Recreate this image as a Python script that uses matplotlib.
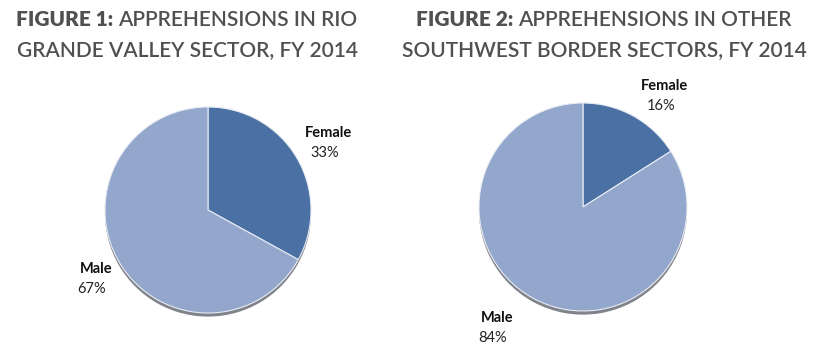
import matplotlib
matplotlib.use("Agg")
import matplotlib.pyplot as plt

categories = ["Female", "Male"]
rgv_values = [33, 67]
other_values = [16, 84]
titles_bold = ["FIGURE 1:", "FIGURE 2:"]
titles_rest = [["APPREHENSIONS IN RIO", "GRANDE VALLEY SECTOR, FY 2014"],
               ["APPREHENSIONS IN OTHER", "SOUTHWEST BORDER SECTORS, FY 2014"]]

W, H = 816, 348
fig = plt.figure(figsize=(W / 100, H / 100), dpi=100)
fig.patch.set_facecolor("white")

colors = ["#4a70a4", "#93a6cb"]
FONT = "Lato"
TCOL = "#505050"

def add_pie(cx, cy, r, values, label_pos):
    ax = fig.add_axes([(cx - r) / W, (H - cy - r) / H, 2 * r / W, 2 * r / H])
    ax.set_xlim(-1, 1); ax.set_ylim(-1, 1); ax.set_aspect("equal"); ax.axis("off")
    ax.pie(values, radius=1.0, center=(0.0, -0.035), startangle=90, counterclock=False,
           colors=["#4a4e58"] * 2, wedgeprops=dict(linewidth=0, alpha=0.7))
    ax.pie(values, radius=1.0, startangle=90, counterclock=False, colors=colors,
           wedgeprops=dict(linewidth=0.8, edgecolor="#e8ecf4"))
    ax.set_xlim(-1, 1); ax.set_ylim(-1, 1)
    for cat, val, (px, py) in zip(categories, values, label_pos):
        fig.text(px / W, 1 - py / H, cat, ha="center", va="center", fontsize=10.5,
                 fontweight="bold", family=FONT, color="#111111")
        fig.text((px - 4) / W, 1 - (py + 20) / H, f"{val}%", ha="center", va="center",
                 fontsize=10.5, family=FONT, color="#222222")
    return ax

add_pie(208, 210, 103, rgv_values, [(329, 133), (96, 269)])
add_pie(583, 207, 104, other_values, [(665, 86), (497, 318)])

fig.canvas.draw()
renderer = fig.canvas.get_renderer()

def title(cx, lines_rest, bold):
    ys = [20, 50]
    t1 = fig.text(0, 0, bold + " ", fontsize=15, fontweight="heavy", family=FONT, color=TCOL)
    t2 = fig.text(0, 0, lines_rest[0], fontsize=15, fontweight="semibold", family=FONT, color=TCOL)
    w1 = t1.get_window_extent(renderer).width
    w2 = t2.get_window_extent(renderer).width
    x0 = cx - (w1 + w2) / 2
    t1.set_position((x0 / W, 1 - ys[0] / H)); t1.set_va("center")
    t2.set_position(((x0 + w1) / W, 1 - ys[0] / H)); t2.set_va("center")
    fig.text(cx / W, 1 - ys[1] / H, lines_rest[1], fontsize=15, fontweight="semibold",
             family=FONT, color=TCOL, ha="center", va="center")

title(187, titles_rest[0], titles_bold[0])
title(604, titles_rest[1], titles_bold[1])

fig.savefig("out.png", dpi=100)
